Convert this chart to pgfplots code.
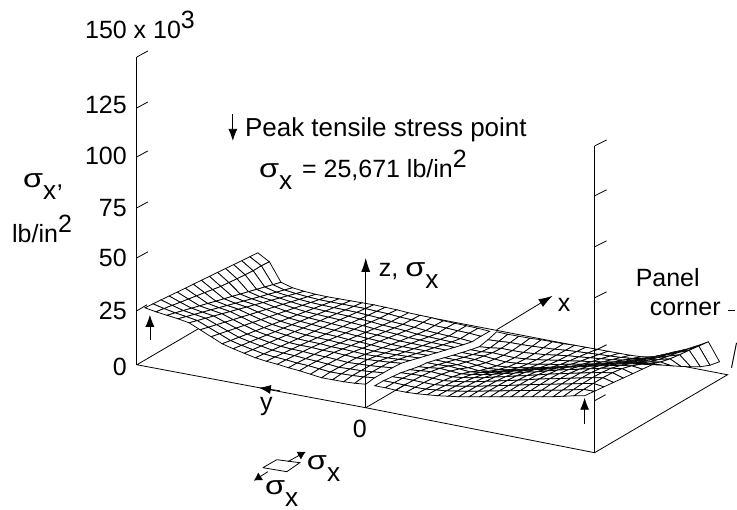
\documentclass[border=0pt]{standalone}
\usepackage{fontspec}
\setmainfont{Liberation Sans}
\usepackage{graphicx}
\usepackage{pgfplots}
\pgfplotsset{compat=1.18}
\usetikzlibrary{arrows.meta}
\newcommand\sx{\scalebox{1.3}[1.05]{σ}\raisebox{-.48em}{\scalebox{1.05}{x}}}
\newcommand\sq[1]{\raisebox{.42em}{#1}}
\pgfplotsset{
  ln/.style={black,line width=#1,forget plot},
  ln/.default=0.8pt,
  ar/.style={black,line width=0.8pt,forget plot,-{Latex[length=#1,width=9pt]}},
  ar/.default=12pt,
  sheet/.style={surf,shader=faceted,faceted color=black,line width=0.75pt,
    colormap={wh}{rgb255(0cm)=(255,255,255) rgb255(1cm)=(255,255,255)},
    point meta=0,point meta min=0,point meta max=1,
    mesh/rows=15,mesh/cols=21,mesh/ordering=y varies,forget plot},
}
\tikzset{
  lb/.style={anchor=base west,inner sep=0pt},
  lr/.style={anchor=base east,inner sep=0pt},
}
\begin{document}
\begin{tikzpicture}
\begin{axis}[
    scale only axis,
    width=737pt,
    height=510pt,
    xmin=0, xmax=737,
    ymin=0, ymax=510,
    y dir=reverse,
    hide axis,
    clip=false,
    font=\fontsize{25}{28}\selectfont,
]
% keeps the page at the full frame, since the axis itself is hidden
\path (axis cs:0,0) rectangle (axis cs:737,510);
% floor of the panel, under the sheet (picture coordinates)
\addplot[ln] coordinates {(137,365) (366,408) (595,453) (728,375) (270,287) (137,365)};

% sheet heights on the page, one block per column of the mesh, back row first
% half towards +y
\addplot[sheet] table[
  x expr={366-221*(1-floor((\coordindex+0.5)/15)/20)+(124-11*(1-floor((\coordindex+0.5)/15)/20))*(14-mod(\coordindex,15))/14},
  y=y] {
y
253
256.9
260.9
264.8
268.7
272.6
276.6
280.5
284.4
288.4
292.3
296.2
300.1
304.1
308
262
266
271
275
279
282.8
286.6
289.8
292.9
296.1
299.3
302.5
305.6
308.8
312
282.5
284.9
287.2
289.6
291.9
294.3
296.6
299
301.4
303.7
306.1
308.4
310.8
313.1
315.5
288
290.2
292.4
294.6
296.9
299.1
301.3
303.5
305.7
307.9
310.1
312.4
314.6
316.8
319
291.5
293.8
296
298.3
300.5
302.8
305
307.3
309.5
311.8
314
316.3
318.5
320.8
323
294.5
297
299.6
302.1
304.6
307.2
309.7
312.3
314.8
317.3
319.9
322.4
324.9
327.5
330
297
299.9
302.7
305.6
308.4
311.3
314.1
317
319.9
322.7
325.6
328.4
331.3
334.1
337
299
302.2
305.4
308.6
311.9
315.1
318.3
321.5
324.7
327.9
331.1
334.4
337.6
340.8
344
301
304.4
307.9
311.3
314.7
318.1
321.6
325
328.4
331.9
335.3
338.7
342.1
345.6
349
303
306.6
310.2
313.8
317.4
321
324.6
328.3
331.9
335.5
339.1
342.7
346.3
349.9
353.5
305
308.8
312.6
316.4
320.1
323.9
327.7
331.5
335.3
339.1
342.9
346.6
350.4
354.2
358
307.5
311.5
315.5
319.3
323
326.8
330.5
334.3
338
341.7
345.5
349.4
353.4
357.3
361.5
310
314.1
318.4
322.1
325.8
329.5
333.2
336.8
340.4
344
347.7
351.8
355.9
360.1
364.5
313
317.3
321.8
325.4
329
332.6
336.2
339.8
343.3
347
350.5
354.7
358.9
363.3
368
315.5
320
324.6
328.2
331.8
335.3
338.8
342.3
345.8
349.3
352.7
357.1
361.5
365.9
371
318
322.6
327.6
331.1
334.6
338.1
341.6
345.1
348.5
351.9
355.4
359.8
364.4
369.1
374.5
321
325.8
330.8
334.5
337.9
341.3
344.7
348.1
351.4
354.7
358.2
362.7
367.6
372.3
378
323.5
328.3
333.6
337.1
340.3
343.6
346.9
350.1
353.3
356.4
359.8
364.3
369.2
374.1
380
326
331
336.3
339.7
342.8
345.9
349
352.1
355.1
358.2
361.3
365.9
370.9
375.8
382
328.5
333.5
338.9
342.2
345.1
348
351
353.8
356.7
359.6
362.5
367.1
372.1
377.2
383.5
331.5
336.5
342
345
347.6
350.3
353
355.6
358.2
360.8
363.5
368
373
378
384.5
};

% half towards -y
\addplot[sheet] table[
  x expr={375+210*floor((\coordindex+0.5)/15)/20+(122+13*floor((\coordindex+0.5)/15)/20)*(14-mod(\coordindex,15))/14},
  y=y] {
y
332
340
347
350
352.8
355.4
358
360.3
363
367
370
373
377
381
386
334.5
341.5
348
352
354.8
357.6
360
362.5
365
368
371
374.5
378.5
383
388
336.5
342.8
348.6
353
356.3
359.8
362.3
365
366.3
368.6
371.9
376
380.6
385.4
390.5
338.5
344.8
350.8
355.6
359.4
363
365.6
368
369.2
371.4
374.6
378.5
382.9
387.6
392.5
340
346.5
352.7
358
362.2
366.2
368.7
371
372.2
374.2
377.2
380.9
385
389.4
394
342
348
353.9
359.1
363.5
367.3
369.7
371.5
372.7
374.8
377.8
381.6
385.8
390.3
395
344
349.5
354.9
360
364.3
368
370.1
371.5
372.7
374.9
378.1
382
386.4
391.1
396
345.5
350.5
355.4
360.3
364.6
368.1
370
371
372.3
374.6
377.9
382
386.6
391.4
396.5
347.5
351.8
356
360.6
364.6
367.8
369.3
370
371.4
373.8
377.3
381.6
386.5
391.6
397
349.5
353.3
357.1
361.1
364.7
367.5
368.9
369.5
370.9
373.4
376.9
381.3
386.3
391.5
397
351.5
354.7
358
361.4
364.4
366.8
368
368.5
369.9
372.5
376.2
380.8
385.9
391.3
397
353.5
356.3
359
361.9
364.5
366.6
367.6
368
369.5
372.1
375.8
380.5
385.7
391.2
397
355.5
357.7
359.9
362.2
364.2
365.9
366.7
367
368.5
371.2
375.1
379.9
385.3
391
397
357
358.7
360.4
362.2
363.8
365.1
365.7
366
367.6
370.3
374.4
379.3
384.9
390.8
397
357
358.6
360.2
361.9
363.5
364.7
365.2
365.5
367.1
369.9
374
379
384.7
390.7
397
355
356.9
358.8
360.8
362.6
364
364.7
365
366.6
369.5
373.6
378.8
384.5
390.6
397
352
354.4
356.8
359.3
361.5
363.3
364.1
364.5
366.1
369
373.3
378.5
384.3
390.5
397
349.5
352.3
355
357.9
360.5
362.6
363.6
364
365.7
368.6
372.9
378.2
384.1
390.4
397
346
349.4
352.8
356.4
359.7
362.2
363.5
364
365.6
368.5
372.8
378
383.8
390
396.5
342
346.3
350.5
355
359.1
362.3
363.8
364.5
366.1
368.9
373
378
383.7
389.7
396
362
365.5
367
367
366.7
366
365.3
365
369.4
373.9
378.3
382.7
387.1
391.6
396
};

% axes drawn over the sheet
\addplot[ln] coordinates {(366,408) (407,384)};
\addplot[ln=1pt] coordinates {(137,57) (137,365)};
\addplot[ln] coordinates {(137,57) (148,51)};
\addplot[ln] coordinates {(137,108) (148,102)};
\addplot[ln] coordinates {(137,157) (148,151)};
\addplot[ln] coordinates {(137,208) (148,202)};
\addplot[ln] coordinates {(137,258) (148,252)};
\addplot[ln] coordinates {(137,311) (147,305)};
\addplot[ln=1pt] coordinates {(595,146) (595,453)};
\addplot[ln] coordinates {(595,146) (607,140)};
\addplot[ln] coordinates {(595,196) (607,190)};
\addplot[ln] coordinates {(595,247) (607,241)};
\addplot[ln] coordinates {(595,298) (607,292)};
\addplot[ln] coordinates {(595,351) (607,345)};
\addplot[ln] coordinates {(595,401) (606,395)};
% arrows
\addplot[ar=14pt] coordinates {(366,408) (366,258)};
\addplot[ar=14pt] coordinates {(497,330) (553,296)};
\addplot[ar=12pt] coordinates {(280,391) (259,388)};
\addplot[ar=12pt] coordinates {(150,340) (150,315)};
\addplot[ar=12pt] coordinates {(585,424) (585,398)};
\addplot[ar=12pt] coordinates {(233,114) (233,141)};
% panel corner marks
\addplot[ln] coordinates {(728,311) (735,311)};
\addplot[ln=1pt] coordinates {(737,343) (732,368)};
% stress element
\addplot[ln] coordinates {(263,468) (277,460) (300,463) (287,472) (263,468)};
\addplot[ar=8pt] coordinates {(288,462) (306,452)};
\addplot[ar=8pt] coordinates {(268,472) (254,481)};

\node[lb] at (axis cs:85,39) {150 x 10\sq{3}};
\node[lr] at (axis cs:127,114) {125};
\node[lr] at (axis cs:127,165) {100};
\node[lr] at (axis cs:127,217) {75};
\node[lr] at (axis cs:127,267) {50};
\node[lr] at (axis cs:127,320) {25};
\node[lr] at (axis cs:127,376) {0};
\node[lb] at (axis cs:23,188) {\sx,};
\node[lb] at (axis cs:12,243) {lb/in\sq{2}};
\node[lb] at (axis cs:245,137) {\fontsize{26}{28}\selectfont Peak tensile stress point};
\node[lb] at (axis cs:259,178) {\sx\hspace{3pt}\ = 25,671 lb/in\sq{2}};
\node[lb] at (axis cs:379,277) {z, \sx};
\node[lb] at (axis cs:558,312) {x};
\node[lb] at (axis cs:260,411) {y};
\node[lb] at (axis cs:353,438) {0};
\node[lb] at (axis cs:636,287) {Panel};
\node[lb] at (axis cs:650,316) {corner};
\node[lb] at (axis cs:307,470) {\sx};
\node[lb] at (axis cs:265,495) {\sx};
\end{axis}
\end{tikzpicture}
\end{document}
